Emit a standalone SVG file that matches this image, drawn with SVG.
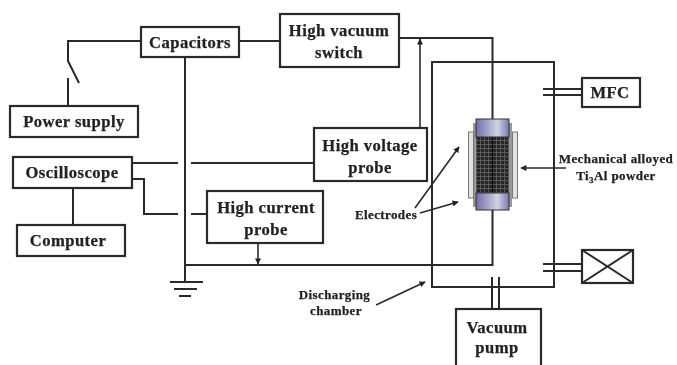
<svg xmlns="http://www.w3.org/2000/svg" width="677" height="365" viewBox="0 0 677 365">
<defs>
<filter id="soft" x="0" y="0" width="100%" height="100%"><feGaussianBlur stdDeviation="0.35"/></filter>
<marker id="arr" viewBox="0 0 10 10" refX="9" refY="5" markerWidth="7" markerHeight="6" markerUnits="userSpaceOnUse" orient="auto"><path d="M0 0L10 5L0 10Z" fill="#222"/></marker>
<linearGradient id="cap" x1="0" x2="1" y1="0" y2="0"><stop offset="0" stop-color="#6f6fa8"/><stop offset=".65" stop-color="#d2d2e6"/><stop offset="1" stop-color="#7a7aae"/></linearGradient>
<pattern id="mesh" width="4" height="4" patternUnits="userSpaceOnUse"><rect width="4" height="4" fill="#262626"/><path d="M0 .5H4M.5 0V4" stroke="#666" stroke-width=".8"/></pattern>
</defs>
<style>
.b{fill:#fff;stroke:#2a2a2a;stroke-width:2.2}
.l{fill:none;stroke:#2a2a2a;stroke-width:2}
.a{fill:none;stroke:#2a2a2a;stroke-width:1.6;marker-end:url(#arr)}
text{font-family:"Liberation Serif",serif;font-weight:bold;fill:#222;stroke:#222;stroke-width:.25;text-anchor:middle}
.m{font-size:16.6px;letter-spacing:.45px}
.s{font-size:13px;letter-spacing:.4px}
</style>
<g filter="url(#soft)">
<rect width="677" height="365" fill="#fff"/>
<g id="connectors">
<path class="l" d="M141 41H68V61L79 83M68 78V106"/>
<path class="l" d="M239 41H280M185 57V282"/>
<path class="l" d="M170 282H203M174 289H197M179 296H191"/>
<path class="l" d="M132 163H178M191 163H314"/>
<path class="l" d="M132 179H144V214H178M191 214H207"/>
<path class="l" d="M185 265H492.500V210"/>
<path class="l" d="M399 38H492.500V119"/>
<path class="a" d="M420 128V39"/>
<path class="a" d="M258 243V264"/>
<path class="l" d="M543 89H582M543 95H582M543 264H582M543 271H582"/>
<path class="l" d="M492 277V309M499 277V309"/>
<path class="l" d="M73 188V225"/>
<path class="a" d="M415 208L459 147"/>
<path class="a" d="M420 213L458 202"/>
<path class="a" d="M566 168H521"/>
<path class="a" d="M376 305L425 282"/>
</g>
<g id="chamber"><rect x="432" y="62" width="122" height="225" fill="none" stroke="#2a2a2a" stroke-width="2"/></g>
<g id="capacitors"><rect class="b" x="141" y="27" width="98" height="30"/><text class="m" x="190" y="48">Capacitors</text></g>
<g id="switch"><rect class="b" x="280" y="14" width="119" height="53"/><text class="m" x="339" y="36">High vacuum</text><text class="m" x="339" y="58">switch</text></g>
<g id="power"><rect class="b" x="10" y="106" width="128" height="31"/><text class="m" x="74" y="127">Power supply</text></g>
<g id="scope"><rect class="b" x="13" y="157" width="119" height="31"/><text class="m" x="72" y="178">Oscilloscope</text></g>
<g id="computer"><rect class="b" x="17" y="225" width="108" height="31"/><text class="m" x="68" y="246">Computer</text></g>
<g id="hv"><rect class="b" x="314" y="128" width="113" height="53"/><text class="m" x="370" y="151">High voltage</text><text class="m" x="370" y="173">probe</text></g>
<g id="hc"><rect class="b" x="207" y="191" width="116" height="52"/><text class="m" x="266" y="213">High current</text><text class="m" x="266" y="235">probe</text></g>
<g id="mfc"><rect class="b" x="582" y="78" width="58" height="29"/><text class="m" x="610" y="98">MFC</text></g>
<g id="valve"><rect class="b" x="582" y="250" width="51" height="33"/><path class="l" d="M582 250L633 283M633 250L582 283"/></g>
<g id="pump"><rect class="b" x="456" y="309" width="85" height="61"/><text class="m" x="497" y="333">Vacuum</text><text class="m" x="497" y="353">pump</text></g>
<g id="reactor">
<rect x="473" y="123" width="39" height="84" fill="#999"/>
<rect x="468.500" y="132" width="5" height="66" fill="#e2e2e2" stroke="#777"/>
<rect x="512.500" y="132" width="5" height="66" fill="#e2e2e2" stroke="#777"/>
<rect x="476" y="137" width="33" height="56" fill="url(#mesh)"/>
<path d="M492.500 137V193" stroke="#111" stroke-width="1"/>
<rect x="476" y="119" width="33" height="18" fill="url(#cap)" stroke="#333"/>
<rect x="476" y="193" width="33" height="17" fill="url(#cap)" stroke="#333"/>
</g>
<g id="labels">
<text class="s" x="616" y="163">Mechanical alloyed</text>
<text class="s" x="616" y="180">Ti<tspan font-size="9" dy="3">3</tspan><tspan dy="-3">Al powder</tspan></text>
<text class="s" x="386" y="219">Electrodes</text>
<text class="s" x="334.500" y="299">Discharging</text>
<text class="s" x="336" y="315">chamber</text>
</g>
</g>
</svg>
